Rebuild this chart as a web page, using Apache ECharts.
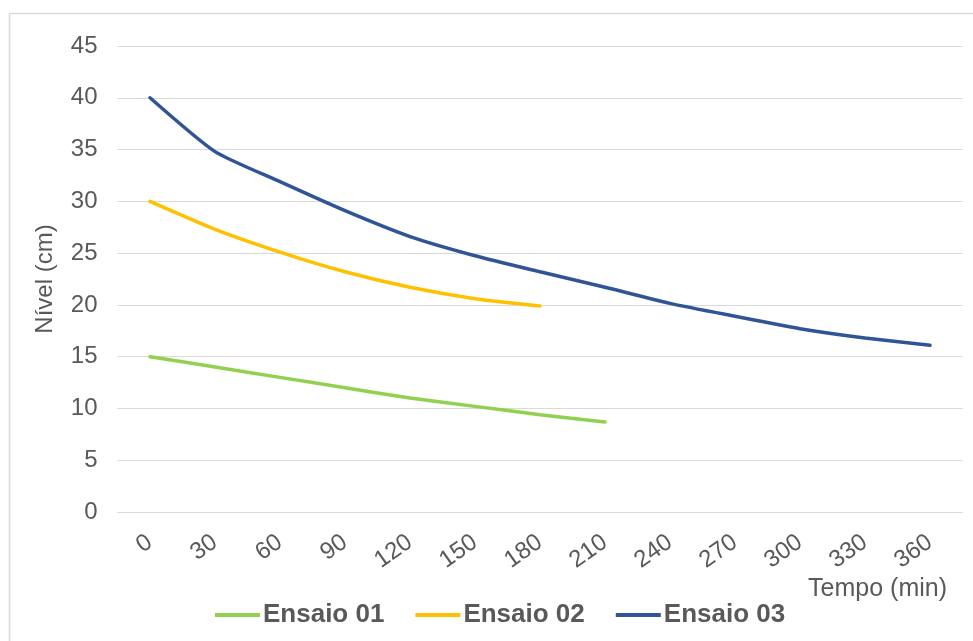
<!DOCTYPE html>
<html>
<head>
<meta charset="utf-8">
<script src="https://cdn.jsdelivr.net/npm/echarts@6/dist/echarts.min.js"></script>
<style>
  html, body { margin: 0; padding: 0; background: #fff; }
  #chart { width: 973px; height: 641px; }
</style>
</head>
<body>
<div id="chart"></div>
<script>
// Time steps (min)
const tempos = ['0', '30', '60', '90', '120', '150', '180', '210', '240', '270', '300', '330', '360'];

// Water level (cm) for each run
const ensaio01 = [15.0, 14.0, 13.0, 12.0, 11.0, 10.2, 9.4, 8.7];
const ensaio02 = [30.0, 27.3, 25.1, 23.2, 21.7, 20.6, 19.9];
const ensaio03 = [40.0, 34.8, 31.9, 29.1, 26.6, 24.75, 23.2, 21.7, 20.15, 18.9, 17.7, 16.8, 16.1];

const seriesNames = ['Ensaio 01', 'Ensaio 02', 'Ensaio 03'];
const seriesColors = ['#92D050', '#FFC000', '#2F5597'];

const yTicks = { min: 0, max: 45, interval: 5 };

const FONT = '"Liberation Sans", Arial, sans-serif';
const TEXT = '#595959';

const chart = echarts.init(document.getElementById('chart'), null, { renderer: 'canvas' });

function lineSeries(name, data, color) {
  return {
    name: name,
    type: 'line',
    data: data,
    symbol: 'none',
    smooth: 0.2,
    lineStyle: { color: color, width: 3.5, cap: 'round' },
    itemStyle: { color: color }
  };
}

chart.setOption({
  backgroundColor: '#ffffff',
  animation: false,
  textStyle: { fontFamily: FONT },
  graphic: [
    {
      type: 'rect',
      shape: { x: 9.5, y: 13.5, width: 980, height: 660 },
      style: { fill: 'none', stroke: '#d9d9d9', lineWidth: 1.5 },
      silent: true
    },
    {
      type: 'text',
      right: 26,
      top: 577,
      style: { text: 'Tempo (min)', fill: TEXT, font: '25px ' + FONT }
    }
  ],
  grid: { left: 117.5, right: 10.5, top: 46, bottom: 129, containLabel: false },
  legend: {
    left: 210,
    top: 597,
    icon: 'rect',
    itemWidth: 45,
    itemHeight: 4,
    itemGap: 31,
    textStyle: { color: TEXT, fontSize: 26, fontWeight: 'bold', fontFamily: FONT, padding: [0, 0, 0, -2] },
    data: seriesNames
  },
  xAxis: {
    type: 'category',
    data: tempos,
    boundaryGap: true,
    axisLine: { show: false },
    axisTick: { show: false },
    axisLabel: { color: TEXT, fontSize: 24, fontFamily: FONT, rotate: 35, margin: 28, interval: 0 }
  },
  yAxis: {
    type: 'value',
    min: yTicks.min,
    max: yTicks.max,
    interval: yTicks.interval,
    name: 'Nível (cm)',
    nameLocation: 'middle',
    nameGap: 60,
    nameTextStyle: { color: TEXT, fontSize: 24, fontFamily: FONT },
    axisLine: { show: false },
    axisTick: { show: false },
    axisLabel: { color: TEXT, fontSize: 24, fontFamily: FONT, margin: 20 },
    splitLine: { lineStyle: { color: '#d9d9d9', width: 1 } }
  },
  series: [
    lineSeries(seriesNames[0], ensaio01, seriesColors[0]),
    lineSeries(seriesNames[1], ensaio02, seriesColors[1]),
    lineSeries(seriesNames[2], ensaio03, seriesColors[2])
  ]
});
</script>
</body>
</html>
